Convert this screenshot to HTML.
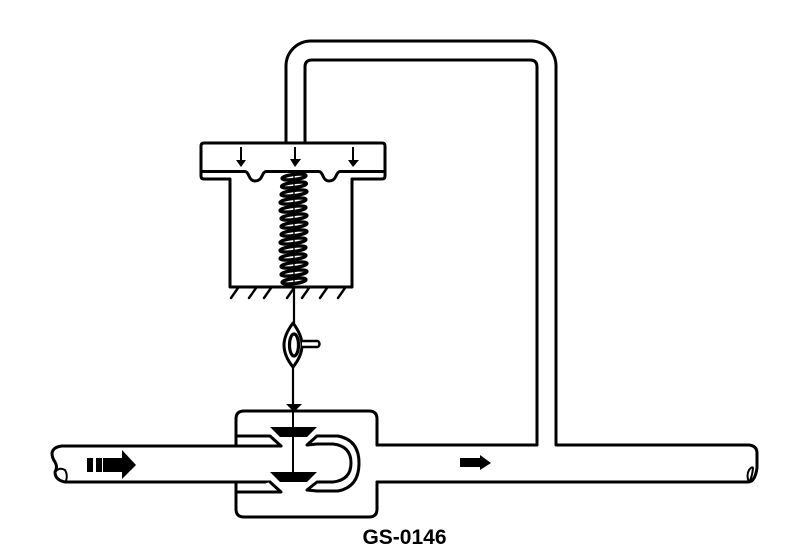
<!DOCTYPE html>
<html><head><meta charset="utf-8"><style>
html,body{margin:0;padding:0;background:#fff;width:800px;height:557px;overflow:hidden}
svg{display:block}
</style></head><body>
<svg width="800" height="557" viewBox="0 0 800 557" xmlns="http://www.w3.org/2000/svg">
<g fill="none" stroke="#000" stroke-width="3" stroke-linejoin="round" stroke-linecap="round">
<!-- top duct -->
<path d="M286 143V66A25 25 0 0 1 311 41H531A25 25 0 0 1 556 66V445H749Q757 446 757 453V468Q755 482 748 482H377"/>
<path d="M305 143V67Q305 60 312 60H530Q537 60 537 67V445H377"/>
<path d="M749 482Q746 476 749 470Q752 466 753 468Q752 478 749 482Z" stroke-width="2"/>
<!-- plate -->
<path d="M230 179H204Q201 179 201 176V146Q201 143 204 143H382Q385 143 385 146V176Q385 179 382 179H352V287H230Z" fill="#fff"/>
<path d="M201 171.500H245Q247 171.500 249 176Q251 181 255 181Q260 181 262 176Q264 171.500 266 171.500H319Q321 171.500 323 176Q325 181 329 181Q334 181 336 176Q338 171.500 340 171.500H385" stroke-width="3"/>
<!-- hatch -->
<path d="M231 298L238 288M249 298L256 288M264 298L271 288M287 298L294 288M302 298L309 288M320 298L327 288M338 298L345 288" stroke-width="2.4"/>
<!-- stem -->
<path d="M294 287V323M293 367V405" stroke-width="2.2"/>
<!-- lens -->
<path d="M293 323Q284 335 284 345Q284 356 293 367Q302 356 302 345Q302 335 293 323Z" fill="#fff"/>
<ellipse cx="294" cy="345" rx="4.500" ry="11" fill="#fff" stroke-width="3.200"/>
<path d="M302 341H318Q321 344 318 347H302" fill="#fff" stroke-width="2.400"/>
<!-- valve body -->
<path d="M236 446V419Q236 411 244 411H369Q377 411 377 419V445M377 482V509Q377 517 369 517H244Q236 517 236 509V482" fill="#fff"/>
<!-- left pipe -->
<path d="M281 446H62Q53 447 52 453Q52 458 55 462Q58 467 55 472Q55 480 65 482H270" fill="#fff"/>
<path d="M56 471Q60 467 65 470Q68 475 66 481" stroke-width="2"/>
<path d="M237 436H270L281 446"/>
<path d="M237 492H281L270 482" fill="#fff"/>
<!-- stem within valve -->
<path d="M293 411V472" stroke-width="2"/>
<!-- U duct -->
<path d="M307 445L317 436H338Q359 440 359 463Q359 487 338 491H317L307 490L317 482H333Q351 480 351 463Q351 446 333 444H317Z" fill="#fff"/>
</g>
<g fill="#000">
<!-- arrowheads -->
<path d="M286 404H302L294 412Z"/>
<path d="M236 160H246L241 167Z"/>
<path d="M290 159H301L295 167Z"/>
<path d="M348 160H359L353 167Z"/>
<path d="M270 427H317L307 437H280Z"/>
<path d="M270 472H317L307 482H280Z"/>
<!-- big arrow -->
<rect x="87" y="458" width="6" height="14"/><rect x="96" y="458" width="6" height="14"/>
<path d="M103 458H122V450L136 465L122 479V472H103Z"/>
<!-- small arrow -->
<path d="M460 458H480V455L491 463L480 470V467H460Z"/>
</g>
<g fill="none" stroke="#000" stroke-width="2">
<path d="M241 147V160M295 147V160M353 147V160"/>
</g>
<!-- spring -->
<g fill="#fff" stroke="#000" stroke-width="3.400">
<ellipse cx="294" cy="177" rx="12" ry="2.600" transform="rotate(-7 294 177)"/>
<ellipse cx="294" cy="185" rx="12.500" ry="2.600" transform="rotate(-7 294 185)"/>
<ellipse cx="294" cy="193" rx="13" ry="2.600" transform="rotate(-7 294 193)"/>
<ellipse cx="293" cy="201" rx="13" ry="2.600" transform="rotate(-7 293 201)"/>
<ellipse cx="293" cy="209" rx="13" ry="2.600" transform="rotate(-7 293 209)"/>
<ellipse cx="294" cy="217" rx="13" ry="2.600" transform="rotate(-7 294 217)"/>
<ellipse cx="294" cy="225" rx="13" ry="2.600" transform="rotate(-7 294 225)"/>
<ellipse cx="294" cy="233" rx="13" ry="2.600" transform="rotate(-7 294 233)"/>
<ellipse cx="293" cy="241" rx="13" ry="2.600" transform="rotate(-7 293 241)"/>
<ellipse cx="293" cy="249" rx="13" ry="2.600" transform="rotate(-7 293 249)"/>
<ellipse cx="293" cy="257" rx="13" ry="2.600" transform="rotate(-7 293 257)"/>
<ellipse cx="294" cy="265" rx="13" ry="2.600" transform="rotate(-7 294 265)"/>
<ellipse cx="294" cy="273" rx="13" ry="2.600" transform="rotate(-7 294 273)"/>
<ellipse cx="294" cy="281" rx="12" ry="2.600" transform="rotate(-7 294 281)"/>
</g>
<path d="M294 175V285" stroke="#000" stroke-width="1.400" fill="none"/>
<text x="404.5" y="544" text-anchor="middle" font-family="'Liberation Sans',sans-serif" font-weight="bold" font-size="21" fill="#000">GS-0146</text>
</svg>
</body></html>
